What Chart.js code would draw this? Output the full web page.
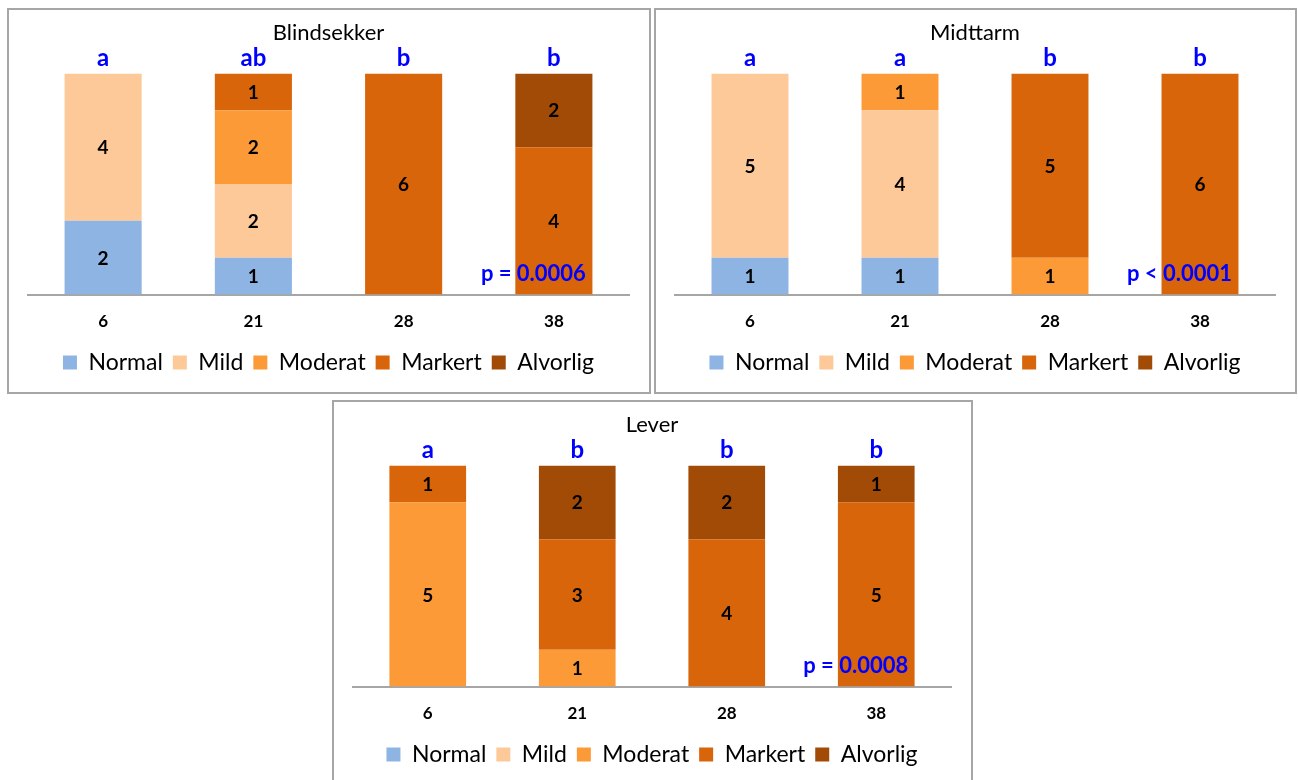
<!DOCTYPE html>
<html>
<head>
<meta charset="utf-8">
<script src="https://cdn.jsdelivr.net/npm/chart.js@4"></script>
<style>
  html, body { margin: 0; padding: 0; background: #fff; overflow: hidden; }
  body { width: 1298px; height: 780px; position: relative; }
  .box { position: absolute; border: 2px solid #a6a6a6; box-sizing: border-box; background: #fff; }
  .box canvas { position: absolute; left: 0; top: 0; }
</style>
</head>
<body>
<div class="box" id="box1" style="left:7px;top:8px;width:644px;height:386px"><canvas id="c1"></canvas></div>
<div class="box" id="box2" style="left:654px;top:8px;width:643px;height:386px"><canvas id="c2"></canvas></div>
<div class="box" id="box3" style="left:332px;top:400px;width:641px;height:386px"><canvas id="c3"></canvas></div>
<script>
const FONT = 'Lato, "Open Sans", sans-serif'

const categories = ['6', '21', '28', '38']
const levels     = ['Normal', 'Mild', 'Moderat', 'Markert', 'Alvorlig']
const levelColors = ['#8EB4E3', '#FDC999', '#FD9A38', '#D9650B', '#A24B07']

// rows follow levels, columns follow categories
const blindsekkerCounts = [
  [2, 1, 0, 0],
  [4, 2, 0, 0],
  [0, 2, 0, 0],
  [0, 1, 6, 4],
  [0, 0, 0, 2],
]
const midttarmCounts = [
  [1, 1, 0, 0],
  [5, 4, 0, 0],
  [0, 1, 1, 0],
  [0, 0, 5, 6],
  [0, 0, 0, 0],
]
const leverCounts = [
  [0, 0, 0, 0],
  [0, 0, 0, 0],
  [5, 1, 0, 0],
  [1, 3, 4, 5],
  [0, 2, 2, 1],
]

const blindsekkerLetters = ['a', 'ab', 'b', 'b']
const midttarmLetters    = ['a', 'a', 'b', 'b']
const leverLetters       = ['a', 'b', 'b', 'b']

const blindsekkerP = 'p = 0.0006'
const midttarmP    = 'p < 0.0001'
const leverP       = 'p = 0.0008'

const annotate = {
  id: 'annotate',
  afterDatasetsDraw(chart, args, opts) {
    const ctx = chart.ctx
    const y = chart.scales.y
    ctx.save()
    ctx.textAlign = 'center'
    ctx.textBaseline = 'middle'
    // segment counts
    ctx.font = 'bold 19px ' + FONT
    ctx.fillStyle = '#000'
    chart.data.datasets.forEach((ds, i) => {
      chart.getDatasetMeta(i).data.forEach((bar, j) => {
        if (!ds.data[j]) return
        ctx.fillText(ds.data[j], bar.x, (bar.y + bar.base) / 2 + 1)
      })
    })
    // group letters above each stack
    ctx.font = 'bold 24px ' + FONT
    ctx.fillStyle = '#0000FF'
    const first = chart.getDatasetMeta(0).data
    opts.letters.forEach((txt, j) => {
      let total = 0
      chart.data.datasets.forEach(ds => { total += ds.data[j] || 0 })
      ctx.fillText(txt, first[j].x, y.getPixelForValue(total) - 15)
    })
    // p-value
    ctx.font = 'bold 22px ' + FONT
    const lastBar = first[first.length - 1]
    ctx.textAlign = 'right'
    ctx.fillText(opts.p, lastBar.x + 32, y.bottom - 21)
    ctx.restore()
  }
}

function makeChart(id, box, title, counts, letters, p) {
  const el = document.getElementById(box)
  const canvas = document.getElementById(id)
  canvas.width = el.clientWidth
  canvas.height = el.clientHeight
  canvas.style.width = el.clientWidth + 'px'
  canvas.style.height = el.clientHeight + 'px'

  return new Chart(canvas, {
    type: 'bar',
    data: {
      labels: categories,
      datasets: levels.map((name, i) => ({
        label: name,
        data: counts[i],
        backgroundColor: levelColors[i],
        borderWidth: 0,
        categoryPercentage: 1,
        barPercentage: 0.513,
      }))
    },
    options: {
      responsive: false,
      animation: false,
      layout: { padding: { left: 19, right: 20, top: 0, bottom: 8 } },
      scales: {
        x: {
          stacked: true,
          grid: { display: false },
          border: { color: '#a6a6a6', width: 2 },
          ticks: { color: '#000', font: { family: FONT, size: 17, weight: 'bold' }, padding: 9 }
        },
        y: { stacked: true, min: 0, max: 6, display: false }
      },
      plugins: {
        title: {
          display: true,
          text: title,
          color: '#000',
          font: { family: FONT, size: 22, weight: 'normal' },
          padding: { top: 10, bottom: 27 }
        },
        legend: {
          position: 'bottom',
          labels: {
            color: '#000',
            font: { family: FONT, size: 23 },
            boxWidth: 14,
            boxHeight: 14,
            padding: 10,
          }
        },
        tooltip: { enabled: false },
        annotate: { letters, p }
      }
    },
    plugins: [annotate]
  })
}

makeChart('c1', 'box1', 'Blindsekker', blindsekkerCounts, blindsekkerLetters, blindsekkerP)
makeChart('c2', 'box2', 'Midttarm', midttarmCounts, midttarmLetters, midttarmP)
makeChart('c3', 'box3', 'Lever', leverCounts, leverLetters, leverP)
</script>
</body>
</html>
